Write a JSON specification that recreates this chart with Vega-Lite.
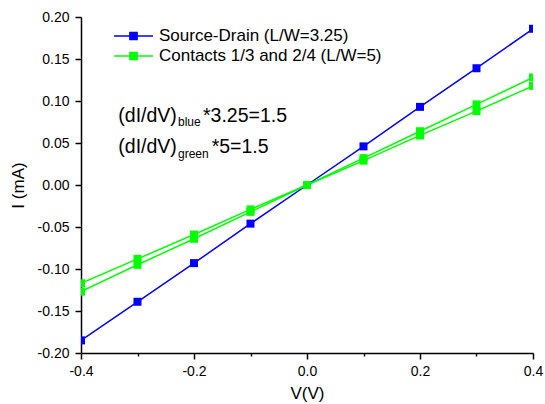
{
  "$schema": "https://vega.github.io/schema/vega-lite/v6.json",
  "width": 452,
  "height": 336,
  "autosize": {"type": "none"},
  "padding": {"left": 81, "top": 17, "right": 12, "bottom": 51},
  "background": "white",
  "config": {
    "font": "Liberation Sans",
    "view": {"stroke": null},
    "axis": {
      "grid": false,
      "domainColor": "black",
      "domainWidth": 1.5,
      "tickColor": "black",
      "tickWidth": 1.5,
      "labelColor": "black",
      "labelFont": "Liberation Sans",
      "labelFontSize": 14,
      "titleFont": "Liberation Sans",
      "titleFontSize": 17,
      "titleFontWeight": "normal",
      "titleColor": "black",
      "labelOverlap": false,
      "labelFlush": false,
      "labelBound": false
    }
  },
  "datasets": {
    "iv": [
      {"V": -0.4, "I": -0.185, "series": "Source-Drain (L/W=3.25)", "run": "sd"},
      {"V": -0.3, "I": -0.139, "series": "Source-Drain (L/W=3.25)", "run": "sd"},
      {"V": -0.2, "I": -0.093, "series": "Source-Drain (L/W=3.25)", "run": "sd"},
      {"V": -0.1, "I": -0.046, "series": "Source-Drain (L/W=3.25)", "run": "sd"},
      {"V": 0.0, "I": 0.0, "series": "Source-Drain (L/W=3.25)", "run": "sd"},
      {"V": 0.1, "I": 0.046, "series": "Source-Drain (L/W=3.25)", "run": "sd"},
      {"V": 0.2, "I": 0.093, "series": "Source-Drain (L/W=3.25)", "run": "sd"},
      {"V": 0.3, "I": 0.139, "series": "Source-Drain (L/W=3.25)", "run": "sd"},
      {"V": 0.4, "I": 0.186, "series": "Source-Drain (L/W=3.25)", "run": "sd"},
      {"V": -0.4, "I": -0.127, "series": "Contacts 1/3 and 2/4 (L/W=5)", "run": "c13"},
      {"V": -0.3, "I": -0.095, "series": "Contacts 1/3 and 2/4 (L/W=5)", "run": "c13"},
      {"V": -0.2, "I": -0.064, "series": "Contacts 1/3 and 2/4 (L/W=5)", "run": "c13"},
      {"V": -0.1, "I": -0.032, "series": "Contacts 1/3 and 2/4 (L/W=5)", "run": "c13"},
      {"V": 0.0, "I": 0.0, "series": "Contacts 1/3 and 2/4 (L/W=5)", "run": "c13"},
      {"V": 0.1, "I": 0.032, "series": "Contacts 1/3 and 2/4 (L/W=5)", "run": "c13"},
      {"V": 0.2, "I": 0.064, "series": "Contacts 1/3 and 2/4 (L/W=5)", "run": "c13"},
      {"V": 0.3, "I": 0.096, "series": "Contacts 1/3 and 2/4 (L/W=5)", "run": "c13"},
      {"V": 0.4, "I": 0.128, "series": "Contacts 1/3 and 2/4 (L/W=5)", "run": "c13"},
      {"V": -0.4, "I": -0.117, "series": "Contacts 1/3 and 2/4 (L/W=5)", "run": "c24"},
      {"V": -0.3, "I": -0.088, "series": "Contacts 1/3 and 2/4 (L/W=5)", "run": "c24"},
      {"V": -0.2, "I": -0.059, "series": "Contacts 1/3 and 2/4 (L/W=5)", "run": "c24"},
      {"V": -0.1, "I": -0.029, "series": "Contacts 1/3 and 2/4 (L/W=5)", "run": "c24"},
      {"V": 0.0, "I": 0.0, "series": "Contacts 1/3 and 2/4 (L/W=5)", "run": "c24"},
      {"V": 0.1, "I": 0.029, "series": "Contacts 1/3 and 2/4 (L/W=5)", "run": "c24"},
      {"V": 0.2, "I": 0.059, "series": "Contacts 1/3 and 2/4 (L/W=5)", "run": "c24"},
      {"V": 0.3, "I": 0.088, "series": "Contacts 1/3 and 2/4 (L/W=5)", "run": "c24"},
      {"V": 0.4, "I": 0.118, "series": "Contacts 1/3 and 2/4 (L/W=5)", "run": "c24"}
    ],
    "notes": [
      {"V": -0.334, "I": 0.0754, "text": "(dI/dV)", "role": "main"},
      {"V": -0.2283, "I": 0.0706, "text": "blue", "role": "sub"},
      {"V": -0.1841, "I": 0.0754, "text": "*3.25=1.5", "role": "main"},
      {"V": -0.334, "I": 0.0377, "text": "(dI/dV)", "role": "main"},
      {"V": -0.2283, "I": 0.0325, "text": "green", "role": "sub"},
      {"V": -0.1687, "I": 0.0377, "text": "*5=1.5", "role": "main"}
    ]
  },
  "layer": [
    {
      "data": {"name": "iv"},
      "mark": {"type": "line", "strokeWidth": 1.5, "clip": true},
      "encoding": {
        "x": {
          "field": "V", "type": "quantitative",
          "scale": {"domain": [-0.4, 0.4], "nice": false, "zero": false},
          "axis": {
            "title": "V(V)",
            "values": [-0.4, -0.3, -0.2, -0.1, 0, 0.1, 0.2, 0.3, 0.4],
            "tickSize": {"condition": {"test": "abs(datum.value*5 - round(datum.value*5)) > 0.01", "value": 3}, "value": 6},
            "labelExpr": "abs(datum.value*5 - round(datum.value*5)) > 0.01 ? '' : replace(format(datum.value, '.1f'), '\u2212', '-')",
            "labelPadding": 5,
            "titlePadding": 7
          }
        },
        "y": {
          "field": "I", "type": "quantitative",
          "scale": {"domain": [-0.2, 0.2], "nice": false, "zero": false},
          "axis": {
            "title": "I (mA)",
            "values": [-0.2, -0.175, -0.15, -0.125, -0.1, -0.075, -0.05, -0.025, 0, 0.025, 0.05, 0.075, 0.1, 0.125, 0.15, 0.175, 0.2],
            "tickSize": {"condition": {"test": "abs(datum.value*20 - round(datum.value*20)) > 0.01", "value": 3}, "value": 6},
            "labelExpr": "abs(datum.value*20 - round(datum.value*20)) > 0.01 ? '' : replace(format(datum.value, '.2f'), '\u2212', '-')",
            "labelPadding": 6,
            "titlePadding": 10
          }
        },
        "color": {
          "field": "series", "type": "nominal",
          "scale": {"domain": ["Source-Drain (L/W=3.25)", "Contacts 1/3 and 2/4 (L/W=5)"], "range": ["#0000ff", "#00ff00"]},
          "legend": {
            "title": null,
            "orient": "none",
            "legendX": 41.5,
            "legendY": 8,
            "padding": 0,
            "symbolType": "M-1.95,0H1.95M-0.36,-0.36H0.36V0.36H-0.36Z",
            "symbolSize": 400,
            "symbolStrokeWidth": 1.5,
            "labelFont": "Liberation Sans",
            "labelFontSize": 17,
            "labelColor": "black",
            "labelOffset": 14.5,
            "rowPadding": 1,
            "labelLimit": 400
          }
        },
        "detail": {"field": "run"}
      }
    },
    {
      "data": {"name": "iv"},
      "mark": {"type": "point", "shape": "square", "filled": true, "size": 64, "opacity": 1, "clip": true},
      "encoding": {
        "x": {"field": "V", "type": "quantitative"},
        "y": {"field": "I", "type": "quantitative"},
        "color": {"field": "series", "type": "nominal"}
      }
    },
    {
      "data": {"name": "notes"},
      "transform": [{"filter": "datum.role == 'main'"}],
      "mark": {"type": "text", "align": "left", "baseline": "alphabetic", "fontSize": 19.5, "font": "Liberation Sans", "color": "black"},
      "encoding": {
        "x": {"field": "V", "type": "quantitative"},
        "y": {"field": "I", "type": "quantitative"},
        "text": {"field": "text"}
      }
    },
    {
      "data": {"name": "notes"},
      "transform": [{"filter": "datum.role == 'sub'"}],
      "mark": {"type": "text", "align": "left", "baseline": "alphabetic", "fontSize": 12, "font": "Liberation Sans", "color": "black"},
      "encoding": {
        "x": {"field": "V", "type": "quantitative"},
        "y": {"field": "I", "type": "quantitative"},
        "text": {"field": "text"}
      }
    }
  ]
}
